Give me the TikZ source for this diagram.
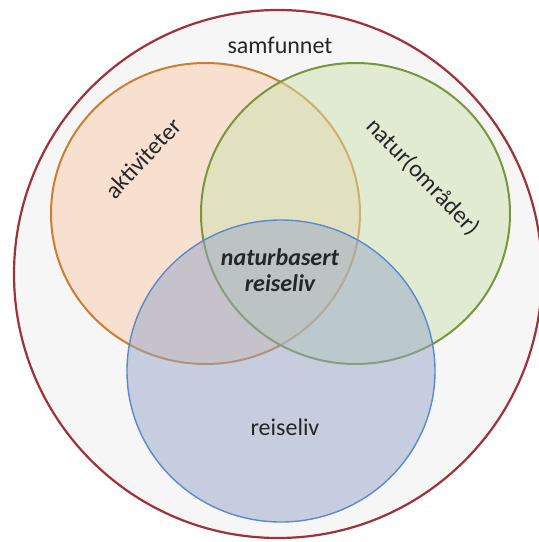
\documentclass[tikz,border=0pt]{standalone}
\usepackage{fontspec}
\setmainfont{Carlito}
\usepackage{tikz}
\definecolor{samfred}{RGB}{160,50,55}
\definecolor{samfgrey}{RGB}{246,246,246}
\definecolor{aktline}{RGB}{205,125,50}
\definecolor{aktfill}{RGB}{250,204,172}
\definecolor{natline}{RGB}{120,150,60}
\definecolor{natfill}{RGB}{206,226,176}
\definecolor{reiline}{RGB}{90,138,205}
\definecolor{reifill}{RGB}{150,166,200}
\tikzset{
every node/.style={inner sep=0pt, text=black!85},
set/.style={line width=1pt, fill opacity=0.5, draw opacity=1},
setlabel/.style={font=\fontsize{12}{14}\selectfont},
corelabel/.style={font=\fontsize{12}{14}\selectfont\bfseries\itshape, align=center}
}

\begin{document}
\begin{tikzpicture}[x=0.5pt,y=-0.5pt]
\useasboundingbox (0,0) rectangle (539,542);
\draw[samfred, line width=1.1pt, fill=samfgrey] (278,274) circle (264);

\draw[set, aktline, fill=aktfill] (205.5,213.5) ellipse (154.5 and 150.5);
\draw[set, natline, fill=natfill] (355.5,213.5) ellipse (154.5 and 150.5);
\draw[set, reiline, line width=0.7pt, fill=reifill] (281,371) ellipse (154 and 151);

\node[setlabel] (samfunnet) at (280,45) {samfunnet};
\node[setlabel, rotate=47] (aktiviteter) at (143,158) {aktiviteter};
\node[setlabel, rotate=-46] (natur) at (423,177) {natur(områder)};
\node[setlabel] (reiseliv) at (285,427) {reiseliv};
\node[corelabel] (naturbasert) at (280,270) {naturbasert\\[-1pt]reiseliv};
\end{tikzpicture}
\end{document}
